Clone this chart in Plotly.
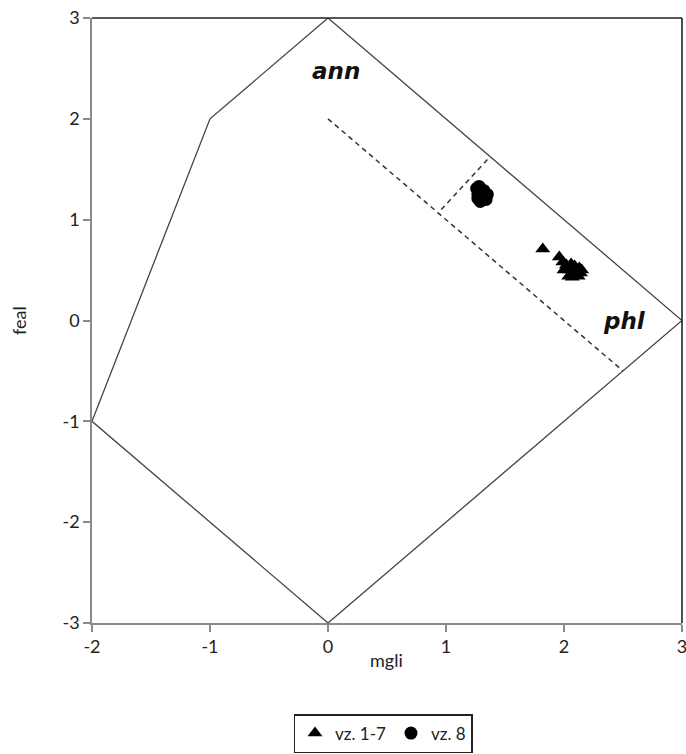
import plotly.graph_objects as go

# Boundary polygon (mgli, feal)
poly_x = [-2, -1, 0, 3, 0, -2]
poly_y = [-1, 2, 3, 0, -3, -1]

# Dashed guide lines
dash1_x = [0, 2.5]
dash1_y = [2, -0.5]
dash2_x = [0.96, 1.37]
dash2_y = [1.10, 1.62]

# Series: vz. 1-7 (triangles)
tri_x = [1.82, 1.96, 1.99, 2.02, 2.05, 2.08, 2.11, 2.14, 2.04, 2.07, 2.10, 2.13, 2.00, 2.06, 2.12, 2.15, 2.09]
tri_y = [0.71, 0.63, 0.58, 0.55, 0.50, 0.47, 0.45, 0.47, 0.44, 0.43, 0.50, 0.52, 0.50, 0.56, 0.44, 0.50, 0.54]

# Series: vz. 8 (circles)
circ_x = [1.26, 1.27, 1.30, 1.33, 1.35, 1.28, 1.32, 1.27, 1.34, 1.31, 1.30, 1.29, 1.33]
circ_y = [1.31, 1.25, 1.19, 1.21, 1.25, 1.33, 1.29, 1.21, 1.20, 1.24, 1.27, 1.18, 1.23]

# Field labels
lab_text = ["ann", "phl"]
lab_x = [0.07, 2.51]
lab_y = [2.47, 0.0]

tick_vals_x = [-2, -1, 0, 1, 2, 3]
tick_text_x = ["-2", "-1", "0", "1", "2", "3"]
tick_vals_y = [-3, -2, -1, 0, 1, 2, 3]
tick_text_y = ["-3", "-2", "-1", "0", "1", "2", "3"]

font_family = "Lato, 'Open Sans', sans-serif"

W, H = 686, 754
L, T, R, B = 92, 18, 4, 131
plot_w = W - L - R
plot_h = H - T - B


def px_to_paper_x(px):
    return (px - L) / plot_w


def px_to_paper_y(py):
    return (H - B - py) / plot_h


fig = go.Figure()
fig.add_trace(go.Scatter(x=poly_x, y=poly_y, mode="lines",
                         line=dict(color="#444444", width=1.3), showlegend=False, hoverinfo="skip"))
fig.add_trace(go.Scatter(x=dash1_x, y=dash1_y, mode="lines",
                         line=dict(color="#333333", width=1.5, dash="5px,4px"), showlegend=False))
fig.add_trace(go.Scatter(x=dash2_x, y=dash2_y, mode="lines",
                         line=dict(color="#333333", width=1.5, dash="5px,4px"), showlegend=False))
fig.add_trace(go.Scatter(x=tri_x, y=tri_y, mode="markers", name="vz. 1-7",
                         marker=dict(symbol="triangle-up", size=13, color="black")))
fig.add_trace(go.Scatter(x=circ_x, y=circ_y, mode="markers", name="vz. 8",
                         marker=dict(symbol="circle", size=13, color="black")))

for t, x, y in zip(lab_text, lab_x, lab_y):
    fig.add_annotation(x=x, y=y, text="<i><b>" + t + "</b></i>", showarrow=False,
                       font=dict(family="'DejaVu Sans', sans-serif", size=23, color="#111111"))

# axis titles
fig.add_annotation(xref="paper", yref="paper", x=px_to_paper_x(386), y=px_to_paper_y(660),
                   yanchor="middle", xanchor="center",
                   text="mgli", showarrow=False, font=dict(family=font_family, size=18, color="#222222"))
fig.add_annotation(xref="paper", yref="paper", x=px_to_paper_x(19), y=px_to_paper_y(321),
                   yanchor="middle", xanchor="center",
                   text="feal", textangle=-90, showarrow=False,
                   font=dict(family=font_family, size=18, color="#222222"))

# frame top and right
fig.add_shape(type="line", xref="paper", yref="paper", x0=0, x1=1, y0=1, y1=1,
              line=dict(color="#222222", width=1.6))
fig.add_shape(type="line", xref="paper", yref="paper", x0=1, x1=1, y0=0, y1=1,
              line=dict(color="#222222", width=1.6))

axis_common = dict(showgrid=False, zeroline=False, showline=True, linecolor="#8a8a8a", linewidth=1.5,
                   ticks="outside", ticklen=7, tickcolor="#8a8a8a", tickwidth=1.5,
                   ticklabeloverflow="allow",
                   tickfont=dict(family=font_family, size=18, color="#222222"), automargin=False)

fig.update_layout(
    width=W, height=H,
    margin=dict(l=L, r=R, t=T, b=B, autoexpand=False),
    plot_bgcolor="white", paper_bgcolor="white",
    xaxis=dict(range=[-2, 3], tickvals=tick_vals_x, ticktext=tick_text_x, **axis_common),
    yaxis=dict(range=[-3, 3], tickvals=tick_vals_y, ticktext=tick_text_y, **axis_common),
    legend=dict(orientation="h", x=px_to_paper_x(383), xanchor="center", y=px_to_paper_y(714), yanchor="top",
                bordercolor="#222222", borderwidth=1.5, bgcolor="white",
                font=dict(family=font_family, size=17, color="#222222"),
                itemwidth=30, tracegroupgap=0),
    showlegend=True,
)

fig.write_html("out.html", config={"displayModeBar": False},
               post_script="document.body.style.margin='0';document.body.style.overflow='hidden';")
